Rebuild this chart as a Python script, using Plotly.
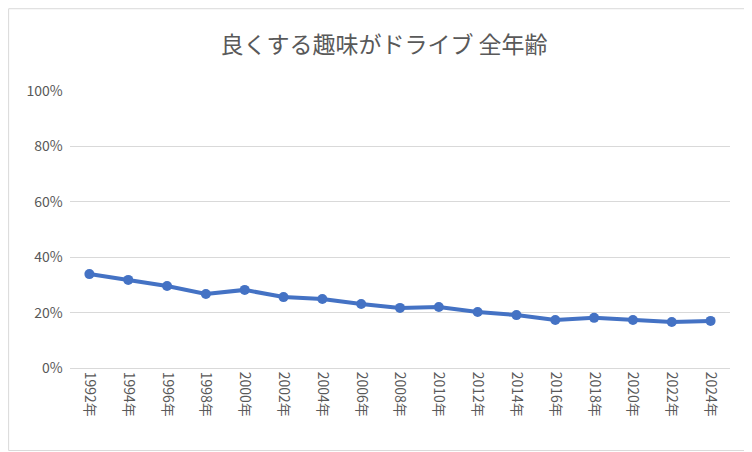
import plotly.graph_objects as go

years = ["1992年", "1994年", "1996年", "1998年", "2000年", "2002年", "2004年", "2006年", "2008年",
         "2010年", "2012年", "2014年", "2016年", "2018年", "2020年", "2022年", "2024年"]
values = [0.339, 0.318, 0.296, 0.267, 0.282, 0.256, 0.249, 0.231, 0.217,
          0.220, 0.202, 0.191, 0.173, 0.181, 0.173, 0.166, 0.170]

fig = go.Figure(go.Scatter(
    x=years, y=values, mode="lines+markers",
    line=dict(color="#4472C4", width=4),
    marker=dict(color="#4472C4", size=10),
))

fig.update_layout(
    title=dict(text="良くする趣味がドライブ 全年齢", x=0.5, xanchor="center", y=0.935,
               font=dict(size=23, color="#595959")),
    width=752, height=452,
    margin=dict(l=62, r=30, t=83, b=92),
    paper_bgcolor="white", plot_bgcolor="white",
    font=dict(family="Noto Sans CJK JP", color="#595959", size=14),
    showlegend=False,
    shapes=[dict(type="rect", xref="paper", yref="paper", x0=-0.093, x1=1.031, y0=-0.298, y1=1.297,
                 line=dict(color="#D9D9D9", width=1))],
)
fig.update_xaxes(tickangle=90, showgrid=False, showline=True, linecolor="#D9D9D9",
                 ticks="", range=[-0.5, 16.5])
fig.update_yaxes(range=[0, 1], dtick=0.2, tickformat=".0%", gridcolor="#D9D9D9",
                 zeroline=False, ticks="", ticksuffix="  ")

fig.write_html("out.html")
